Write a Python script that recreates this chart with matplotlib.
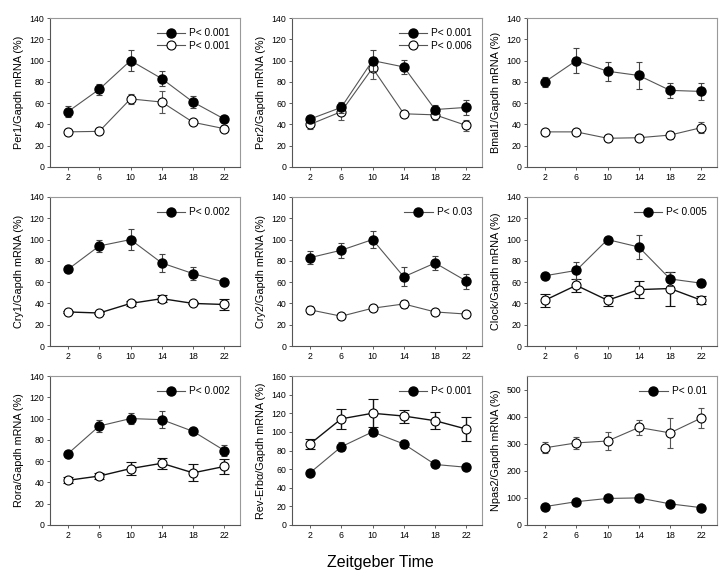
import matplotlib
matplotlib.use("Agg")
import matplotlib.pyplot as plt
from matplotlib.lines import Line2D

plt.rcParams['font.family'] = ['Liberation Sans', 'DejaVu Sans']

zt = [2, 6, 10, 14, 18, 22]

genes = ['Per1', 'Per2', 'Bmal1', 'Cry1', 'Cry2', 'Clock', 'Rora', 'Rev-Erb\u03b1', 'Npas2']

filled_mean = [
    [52, 73, 100, 83, 61, 45],
    [45, 56, 100, 94, 54, 56],
    [80, 100, 90, 86, 72, 71],
    [72, 94, 100, 78, 68, 60],
    [83, 90, 100, 65, 78, 61],
    [66, 71, 100, 93, 63, 59],
    [67, 93, 100, 99, 88, 70],
    [56, 84, 100, 87, 65, 62],
    [68, 86, 98, 100, 78, 64],
]
filled_err = [
    [5, 5, 10, 7, 6, 3],
    [3, 5, 10, 7, 4, 7],
    [5, 12, 9, 13, 7, 8],
    [2, 6, 10, 8, 6, 2],
    [6, 7, 8, 9, 7, 7],
    [3, 8, 1, 11, 7, 4],
    [1, 6, 5, 8, 1, 5],
    [2, 5, 4, 4, 3, 1],
    [2, 3, 3, 3, 3, 3],
]
open_mean = [
    [33, 33.5, 64, 61, 42, 36],
    [40, 52, 93, 50, 49, 39],
    [33, 33, 27, 27.5, 30, 37],
    [32, 31, 40, 44.5, 40, 39],
    [34, 28, 35.5, 39.5, 32, 30],
    [43, 57, 43, 53, 54, 43],
    [42, 46, 53, 58, 49, 55],
    [87, 114, 120, 117, 112, 103],
    [285, 303, 310, 360, 340, 395],
]
open_err = [
    [2, 1, 5, 10, 2, 3],
    [4, 8, 10, 3, 5, 5],
    [2, 2, 3, 2, 4, 5],
    [1, 1, 2, 3, 1, 5],
    [4, 1, 3, 4, 3, 2],
    [6, 6, 5, 8, 16, 4],
    [3, 3, 6, 5, 8, 7],
    [5, 11, 15, 7, 9, 13],
    [20, 22, 33, 27, 55, 38],
]
p_filled = ['P< 0.001', 'P< 0.001', None, 'P< 0.002', 'P< 0.03', 'P< 0.005',
            'P< 0.002', 'P< 0.001', 'P< 0.01']
p_open = ['P< 0.001', 'P< 0.006', None, None, None, None, None, None, None]

y_tops = [140, 140, 140, 140, 140, 140, 140, 160, 550]
y_steps = [20, 20, 20, 20, 20, 20, 20, 20, 100]
# open series drawn darker in some panels
open_dark = [False, False, False, True, False, True, True, True, False]

W, H = 728, 576
fig = plt.figure(figsize=(W / 100, H / 100), dpi=100)

col_left = [50, 292, 527]
row_top = [18, 197, 376]
aw, ah = 190, 149

for i, gene in enumerate(genes):
    r, c = divmod(i, 3)
    ax = fig.add_axes([col_left[c] / W, (H - row_top[r] - ah) / H, aw / W, ah / H])

    oc = '#111111' if open_dark[i] else '#555555'
    olw = 1.0 if open_dark[i] else 0.8
    ocap = 3.5 if open_dark[i] else 2
    ax.errorbar(zt, open_mean[i], yerr=open_err[i], color=oc, lw=olw,
                marker='o', ms=6.5, mfc='white', mec='black', mew=0.8,
                ecolor=oc, elinewidth=olw, capsize=ocap, capthick=olw, zorder=2)
    ax.errorbar(zt, filled_mean[i], yerr=filled_err[i], color='#555555', lw=0.8,
                marker='o', ms=6.5, mfc='black', mec='black',
                ecolor='#444444', elinewidth=0.8, capsize=2, capthick=0.8, zorder=3)

    ax.set_xlim(-0.3, 24)
    ax.set_ylim(0, y_tops[i])
    ax.set_xticks(zt)
    ax.set_yticks(range(0, y_tops[i] + 1, y_steps[i]))
    ax.tick_params(labelsize=6.3, length=2, width=0.6, pad=2, color='#444444')
    for s in ax.spines.values():
        s.set_color('#999999')
        s.set_linewidth(0.8)
    ax.spines['left'].set_color('#555555')
    ax.spines['bottom'].set_color('#555555')
    ax.set_ylabel(gene + '/Gapdh mRNA (%)', fontsize=7.8, labelpad=4)

    handles, labels = [], []
    if p_filled[i]:
        handles.append(Line2D([], [], color='#555555', lw=0.8, marker='o', ms=6.5,
                              mfc='black', mec='black'))
        labels.append(p_filled[i])
    if p_open[i]:
        handles.append(Line2D([], [], color='#555555', lw=0.8, marker='o', ms=6.5,
                              mfc='white', mec='black', mew=0.8))
        labels.append(p_open[i])
    if handles:
        ax.legend(handles, labels, loc='upper right', frameon=False, fontsize=7.3,
                  handlelength=2.8, handletextpad=0.4, borderaxespad=0.6,
                  labelspacing=0.25)

fig.text(380 / W, 1 - 562 / H, 'Zeitgeber Time', ha='center', va='center', fontsize=11.5)

fig.savefig('out.png', dpi=100)
